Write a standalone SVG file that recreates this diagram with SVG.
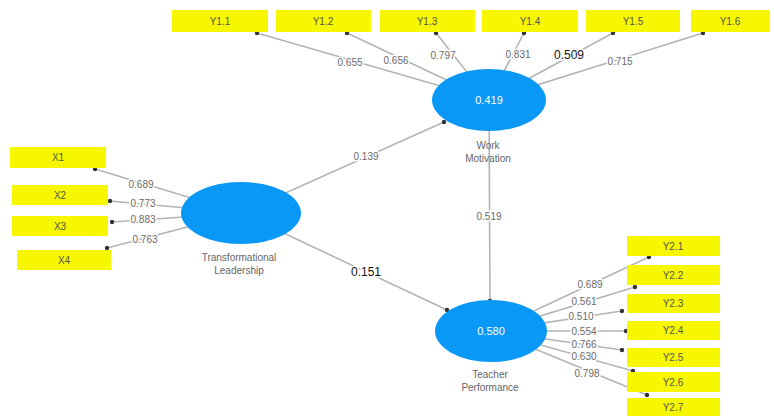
<svg xmlns="http://www.w3.org/2000/svg" width="774" height="416" viewBox="0 0 774 416">
  <style>
    .ind rect { fill: #f7f700; }
    .ind text { font-family: "Liberation Sans", Arial, sans-serif; font-size: 10px; fill: #555; text-anchor: middle; }
    .lv ellipse { fill: #0a98f7; }
    .lv .val { font-family: "Liberation Sans", Arial, sans-serif; font-size: 11px; fill: #fff; text-anchor: middle; }
    .lv .name { font-family: "Liberation Sans", Arial, sans-serif; font-size: 10px; fill: #666; text-anchor: middle; }
    .edge { stroke: #b4b4b4; stroke-width: 1.6; fill: none; }
    .lbl { font-family: "Liberation Sans", Arial, sans-serif; font-size: 10px; fill: #6a6a6a; text-anchor: middle; paint-order: stroke; stroke: #fff; stroke-width: 3px; }
    .lbl.dark { font-size: 12px; fill: #111; }
    .dot { fill: #333; }
  </style>

  <!-- connectors -->
  <g id="connectors">
    <!-- Work Motivation -> Y1.x -->
    <path class="edge" d="M489 100 L257 33"/>
    <path class="edge" d="M489 100 L347 33"/>
    <path class="edge" d="M489 100 L436 33"/>
    <path class="edge" d="M489 100 L524 33"/>
    <path class="edge" d="M489 100 L613 33"/>
    <path class="edge" d="M489 100 L703 33"/>
    <!-- Transformational Leadership -> X -->
    <path class="edge" d="M241 213 L95 169"/>
    <path class="edge" d="M241 213 L110 201"/>
    <path class="edge" d="M241 213 L112 222"/>
    <path class="edge" d="M241 213 L107 248"/>
    <!-- Teacher Performance -> Y2.x -->
    <path class="edge" d="M491 331 L649 257"/>
    <path class="edge" d="M491 331 L635 287"/>
    <path class="edge" d="M491 331 L622 311"/>
    <path class="edge" d="M491 331 L626 331"/>
    <path class="edge" d="M491 331 L622 350"/>
    <path class="edge" d="M491 331 L633 371"/>
    <path class="edge" d="M491 331 L647 395"/>
    <!-- structural paths -->
    <path class="edge" d="M241 213 L444 122"/>
    <path class="edge" d="M241 213 L447 310"/>
    <path class="edge" d="M489 100 L490 301"/>

    <g class="dot">
      <circle cx="257" cy="33" r="2.2"/>
      <circle cx="347" cy="33" r="2.2"/>
      <circle cx="436" cy="33" r="2.2"/>
      <circle cx="524" cy="33" r="2.2"/>
      <circle cx="613" cy="33" r="2.2"/>
      <circle cx="703" cy="33" r="2.2"/>
      <circle cx="95" cy="169" r="2.2"/>
      <circle cx="110" cy="201" r="2.2"/>
      <circle cx="112" cy="222" r="2.2"/>
      <circle cx="107" cy="248" r="2.2"/>
      <circle cx="649" cy="257" r="2.2"/>
      <circle cx="635" cy="287" r="2.2"/>
      <circle cx="622" cy="311" r="2.2"/>
      <circle cx="626" cy="331" r="2.2"/>
      <circle cx="622" cy="350" r="2.2"/>
      <circle cx="633" cy="371" r="2.2"/>
      <circle cx="647" cy="395" r="2.2"/>
      <circle cx="444" cy="122" r="2.2"/>
      <circle cx="447" cy="310" r="2.2"/>
      <circle cx="490" cy="301" r="2.2"/>
    </g>

    <!-- loadings and path coefficients -->
    <text class="lbl" x="350" y="66">0.655</text>
    <text class="lbl" x="396" y="64">0.656</text>
    <text class="lbl" x="443" y="59">0.797</text>
    <text class="lbl" x="518" y="58">0.831</text>
    <text class="lbl dark" x="569" y="59">0.509</text>
    <text class="lbl" x="620" y="65">0.715</text>

    <text class="lbl" x="141" y="188">0.689</text>
    <text class="lbl" x="143" y="207">0.773</text>
    <text class="lbl" x="143" y="223">0.883</text>
    <text class="lbl" x="145" y="243">0.763</text>

    <text class="lbl" x="590" y="288">0.689</text>
    <text class="lbl" x="584" y="305">0.561</text>
    <text class="lbl" x="581" y="320">0.510</text>
    <text class="lbl" x="584" y="335">0.554</text>
    <text class="lbl" x="584" y="348">0.766</text>
    <text class="lbl" x="584" y="360">0.630</text>
    <text class="lbl" x="587" y="377">0.798</text>

    <text class="lbl" x="366" y="160">0.139</text>
    <text class="lbl dark" x="366" y="276">0.151</text>
    <text class="lbl" x="489" y="220">0.519</text>
  </g>

  <!-- indicators of Work Motivation -->
  <g id="Y1_1" class="ind"><rect x="172" y="10" width="96" height="22"/><text x="220" y="25">Y1.1</text></g>
  <g id="Y1_2" class="ind"><rect x="276" y="10" width="95" height="22"/><text x="323" y="25">Y1.2</text></g>
  <g id="Y1_3" class="ind"><rect x="380" y="10" width="95" height="22"/><text x="427" y="25">Y1.3</text></g>
  <g id="Y1_4" class="ind"><rect x="482" y="10" width="96" height="22"/><text x="530" y="25">Y1.4</text></g>
  <g id="Y1_5" class="ind"><rect x="586" y="10" width="94" height="22"/><text x="633" y="25">Y1.5</text></g>
  <g id="Y1_6" class="ind"><rect x="691" y="10" width="79" height="22"/><text x="730" y="25">Y1.6</text></g>

  <!-- indicators of Transformational Leadership -->
  <g id="X1" class="ind"><rect x="10" y="147" width="96" height="21"/><text x="58" y="161">X1</text></g>
  <g id="X2" class="ind"><rect x="12" y="185" width="96" height="20"/><text x="60" y="199">X2</text></g>
  <g id="X3" class="ind"><rect x="12" y="216" width="96" height="20"/><text x="60" y="230">X3</text></g>
  <g id="X4" class="ind"><rect x="17" y="250" width="94" height="20"/><text x="64" y="264">X4</text></g>

  <!-- indicators of Teacher Performance -->
  <g id="Y2_1" class="ind"><rect x="627" y="236" width="93" height="20"/><text x="673" y="250">Y2.1</text></g>
  <g id="Y2_2" class="ind"><rect x="627" y="265" width="93" height="20"/><text x="673" y="279">Y2.2</text></g>
  <g id="Y2_3" class="ind"><rect x="627" y="294" width="93" height="19"/><text x="673" y="307">Y2.3</text></g>
  <g id="Y2_4" class="ind"><rect x="627" y="321" width="93" height="19"/><text x="673" y="334">Y2.4</text></g>
  <g id="Y2_5" class="ind"><rect x="627" y="348" width="93" height="19"/><text x="673" y="361">Y2.5</text></g>
  <g id="Y2_6" class="ind"><rect x="627" y="372" width="93" height="20"/><text x="673" y="386">Y2.6</text></g>
  <g id="Y2_7" class="ind"><rect x="627" y="398" width="93" height="18"/><text x="673" y="411">Y2.7</text></g>

  <!-- latent variables -->
  <g id="work_motivation" class="lv">
    <ellipse cx="489" cy="100" rx="57" ry="31"/>
    <text class="val" x="489" y="104">0.419</text>
    <text class="name" x="488" y="149">Work</text>
    <text class="name" x="488" y="162">Motivation</text>
  </g>
  <g id="transformational_leadership" class="lv">
    <ellipse cx="241" cy="213" rx="60" ry="31"/>
    <text class="name" x="239" y="261">Transformational</text>
    <text class="name" x="239" y="274">Leadership</text>
  </g>
  <g id="teacher_performance" class="lv">
    <ellipse cx="491" cy="331" rx="56" ry="31"/>
    <text class="val" x="491" y="335">0.580</text>
    <text class="name" x="490" y="378">Teacher</text>
    <text class="name" x="490" y="391">Performance</text>
  </g>
</svg>
